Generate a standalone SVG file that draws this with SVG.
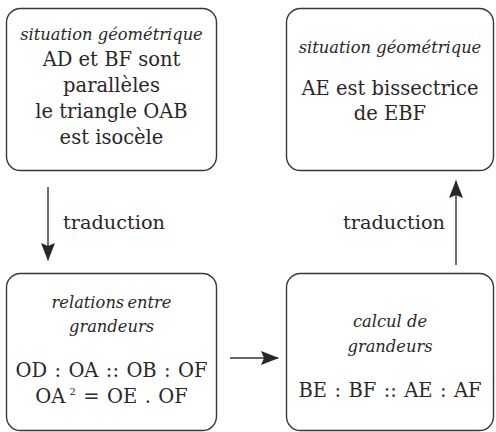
<svg xmlns="http://www.w3.org/2000/svg" width="496" height="432" viewBox="0 0 496 432">
<style>
.box{fill:#fff;stroke:#3a3536;stroke-width:1.4}
text{fill:#2b2627;text-anchor:middle;font-size:19.5px}
.it{font-style:italic;font-size:16.3px}
.eq{word-spacing:1.2px}
.lbl{font-size:19.3px;text-anchor:start}
.con{stroke:#3a3536;stroke-width:1.4;fill:none}
</style>
<defs>
<marker id="ah" viewBox="0 0 18 14" refX="17" refY="7" markerWidth="18" markerHeight="14" markerUnits="userSpaceOnUse" orient="auto">
<path d="M0,0 L18,7 L0,14 L3,7 Z" fill="#2b2627"/>
</marker>
</defs>
<g font-family="DejaVu Serif, Noto Serif, serif">
<g id="n1">
<rect class="box" x="6.5" y="8.5" width="210" height="162" rx="14"/>
<text class="it" x="111.5" y="40">situation géométrique</text>
<text x="111.5" y="66">AD et BF sont</text>
<text x="111.5" y="92">parallèles</text>
<text x="111.5" y="118">le triangle OAB</text>
<text x="111.5" y="144">est isocèle</text>
</g>
<g id="n2">
<rect class="box" x="286.5" y="8.5" width="207" height="162" rx="14"/>
<text class="it" x="390" y="53">situation géométrique</text>
<text x="390" y="95">AE est bissectrice</text>
<text x="390" y="120">de EBF</text>
</g>
<g id="n3">
<rect class="box" x="6.5" y="273.5" width="210" height="157" rx="14"/>
<text class="it" x="111.5" y="308" word-spacing="-2">relations entre</text>
<text class="it" x="111.5" y="332">grandeurs</text>
<text class="eq" x="111.5" y="377">OD : OA :: OB : OF</text>
<text class="eq" x="111.5" y="403">OA<tspan font-size="10" dy="-8"> 2</tspan><tspan dy="8"> = OE . OF</tspan></text>
</g>
<g id="n4">
<rect class="box" x="286.5" y="273.5" width="207" height="157" rx="14"/>
<text class="it" x="390" y="327">calcul de</text>
<text class="it" x="390" y="352">grandeurs</text>
<text class="eq" x="390" y="397">BE : BF :: AE : AF</text>
</g>
<g id="connectors">
<line class="con" x1="48" y1="187" x2="48" y2="260" marker-end="url(#ah)"/>
<line class="con" x1="456" y1="265" x2="456" y2="181" marker-end="url(#ah)"/>
<line class="con" x1="230" y1="358" x2="278" y2="358" marker-end="url(#ah)"/>
<text class="lbl" x="63" y="229">traduction</text>
<text class="lbl" x="343" y="229">traduction</text>
</g>
</g>
</svg>
